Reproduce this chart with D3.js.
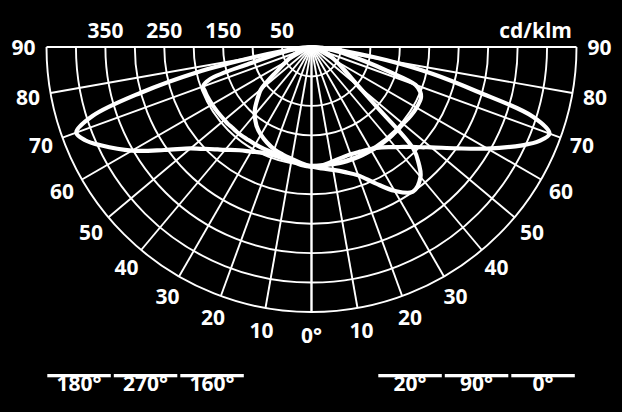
<!DOCTYPE html>
<html>
<head>
<meta charset="utf-8">
<script src="https://cdn.jsdelivr.net/npm/d3@7"></script>
<style>
  body { margin: 0; background: #000; }
  svg text { font-family: "Open Sans", "DejaVu Sans", sans-serif; font-weight: 700; fill: #fff; }
</style>
</head>
<body>
<div id="chart"></div>
<script>
// gamma angles (deg from nadir) shared by every C-plane
const gammas = [0, 5, 10, 15, 20, 25, 30, 35, 40, 42.5, 45, 47.5, 50, 55, 60, 65, 67.5, 70, 72.5, 75, 77.5, 80, 82.5, 85, 90]
// intensities in cd/klm
const c0   = [203, 202, 198, 195, 194, 196, 200, 208, 222, 230, 240, 252, 265, 300, 345, 395, 418, 430, 395, 290, 210, 130, 65, 28, 0]
const c180 = [203, 201, 197, 195, 195, 198, 205, 214, 228, 236, 245, 256, 268, 305, 352, 395, 415, 425, 390, 300, 200, 100, 45, 18, 0]
const c90  = [203, 207, 212, 220, 232, 255, 282, 300, 288, 270, 245, 150, 105, 68, 48, 35, 30, 25, 20, 16, 12, 9, 6, 4, 0]
const c270 = [203, 198, 193, 189, 185, 179, 172, 163, 150, 142, 132, 122, 112, 72, 50, 36, 30, 25, 20, 16, 12, 9, 6, 3, 0]
const c20  = [203, 202, 202, 203, 203, 203, 203, 203, 203, 203, 203, 203, 203, 205, 206, 205, 200, 188, 135, 95, 65, 45, 30, 18, 0]
const c160 = [203, 200, 195, 192, 191, 191, 191, 191, 192, 192, 192, 193, 193, 194, 195, 196, 196, 196, 180, 110, 70, 45, 30, 15, 0]

const ringValues = [50, 100, 150, 200, 250, 300, 350, 400, 450]
const ringLabels = [350, 250, 150, 50]
const angleTicks = [0, 10, 20, 30, 40, 50, 60, 70, 80, 90]
const leftLegend = ["180°", "270°", "160°"]
const rightLegend = ["20°", "90°", "0°"]
const unitLabel = "cd/klm"

var width = 622, height = 412
var cx = 311.5, cy = 47
var R = 265

var svg = d3.select("#chart").append("svg")
    .attr("width", width)
    .attr("height", height)
svg.append("rect").attr("width", width).attr("height", height).attr("fill", "#000")

var g = svg.append("g").attr("transform", "translate(" + cx + "," + cy + ")")

var r = d3.scaleLinear().domain([0, 450]).range([0, R])

// rings (lower half circles)
ringValues.forEach(function (v) {
    var p = d3.path()
    p.arc(0, 0, r(v), 0, Math.PI)
    g.append("path")
        .attr("d", p.toString())
        .attr("fill", "none")
        .attr("stroke", "#fff")
        .attr("stroke-width", 1.9)
})

// radial spokes on both sides
var rad = Math.PI / 180
angleTicks.forEach(function (a) {
    [-1, 1].forEach(function (side) {
        g.append("line")
            .attr("x1", 0).attr("y1", 0)
            .attr("x2", side * R * Math.sin(a * rad))
            .attr("y2", R * Math.cos(a * rad))
            .attr("stroke", "#fff")
            .attr("stroke-width", 1.9)
    })
})

// each curve = left half-plane (gamma 90 -> 0) then right half-plane (0 -> 90)
function planePoints(left, right) {
    var pts = []
    for (var i = gammas.length - 1; i > 0; i--) {
        pts.push([Math.PI + gammas[i] * rad, r(left[i])])
    }
    for (var j = 0; j < gammas.length; j++) {
        pts.push([Math.PI - gammas[j] * rad, r(right[j])])
    }
    return pts
}

var radial = d3.lineRadial()
    .angle(function (d) { return d[0] })
    .radius(function (d) { return d[1] })
    .curve(d3.curveCatmullRom.alpha(0.5))

var pairs = [[c180, c0], [c270, c90], [c160, c20]]
pairs.forEach(function (pr) {
    g.append("path")
        .attr("d", radial(planePoints(pr[0], pr[1])))
        .attr("fill", "none")
        .attr("stroke", "#fff")
        .attr("stroke-width", 4.2)
        .attr("stroke-linejoin", "round")
        .attr("stroke-linecap", "round")
})

// intensity labels along the top
g.selectAll(".ringLabel")
    .data(ringLabels).enter()
    .append("text")
    .attr("x", function (d) { return -r(d) })
    .attr("y", -9)
    .attr("text-anchor", "middle")
    .style("font-size", "21px")
    .text(function (d) { return d })

svg.append("text")
    .attr("x", 572)
    .attr("y", 38)
    .attr("text-anchor", "end")
    .style("font-size", "21px")
    .text(unitLabel)

// angle labels round the outside
var labelR = 288
angleTicks.forEach(function (a) {
    var sides = a == 0 ? [0] : [-1, 1]
    sides.forEach(function (side) {
        g.append("text")
            .attr("x", side * labelR * Math.sin(a * rad))
            .attr("y", labelR * Math.cos(a * rad))
            .attr("dy", "0.36em")
            .attr("text-anchor", "middle")
            .style("font-size", "21px")
            .text(a == 0 ? "0°" : a)
    })
})

// legend: bar with label tucked under it
function legendRow(labels, x0) {
    var w = 63.5, gap = 3
    labels.forEach(function (lab, i) {
        var x = x0 + i * (w + gap)
        svg.append("text")
            .attr("x", x + w / 2)
            .attr("y", 391)
            .attr("text-anchor", "middle")
            .style("font-size", "21px")
            .text(lab)
        svg.append("rect")
            .attr("x", x).attr("y", 371)
            .attr("width", w).attr("height", 3)
            .attr("fill", "#000")
        svg.append("rect")
            .attr("x", x).attr("y", 374)
            .attr("width", w).attr("height", 3.3)
            .attr("fill", "#fff")
    })
}
legendRow(leftLegend, 47.3)
legendRow(rightLegend, 378.3)
</script>
</body>
</html>
